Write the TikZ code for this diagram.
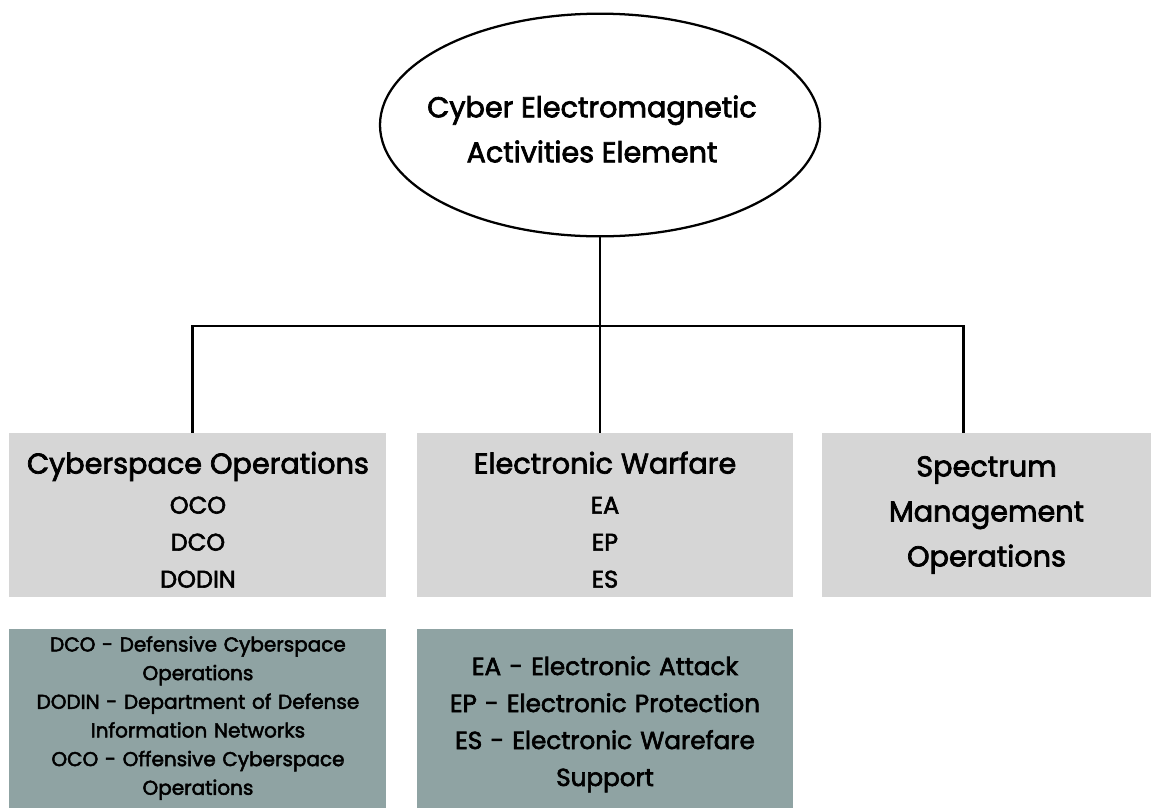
\documentclass[tikz,border=0pt]{standalone}
\usepackage{fontspec}
\setmainfont{Poppins}[UprightFeatures={FakeBold=2.5}]
\usetikzlibrary{shapes.geometric,positioning}

\definecolor{boxgrey}{RGB}{214,214,214}
\definecolor{notegrey}{RGB}{143,163,163}

\newcommand{\headfont}{\fontsize{21.5}{33.75}\selectfont}
\newcommand{\itemfont}{\fontsize{18}{27.75}\selectfont}
\newcommand{\notefont}{\fontsize{15}{21.5}\selectfont}
\newcommand{\topgap}{\rule{0pt}{23.5pt}}

\tikzset{
  unit/.style={fill=boxgrey,inner sep=0pt,minimum height=123pt,align=center},
  note/.style={fill=notegrey,inner sep=0pt,minimum height=134.25pt,align=center,
    text width=282.75pt,font=\notefont},
  link/.style={line width=2.1pt}
}

\begin{document}
\begin{tikzpicture}[x=0.75pt,y=-0.75pt]
\useasboundingbox (0,0) rectangle (1151,808);

% top of the tree
\node[ellipse,draw,line width=1.7pt,minimum width=330pt,minimum height=167pt,
  label={[font=\headfont,align=center,yshift=-3pt,xshift=-6pt]center:Cyber Electromagnetic\\Activities Element}]
  (cema) at (600,125) {};

% the three branches
\node[unit,text width=282pt,font=\itemfont] (ew) at (605,515)
  {{\headfont\topgap Electronic Warfare}\\[2.25pt]EA\\EP\\ES};
\node[unit,text width=282.75pt,font=\itemfont,left=22.5pt of ew] (cyo)
  {{\headfont\topgap Cyberspace Operations}\\[2.25pt]OCO\\DCO\\DODIN};
\node[unit,text width=247.5pt,font=\headfont,right=21pt of ew] (spm)
  {Spectrum\\Management\\Operations};

% abbreviations
\node[note,below=23.25pt of cyo] (cyonote)
  {DCO - Defensive Cyberspace\\Operations\\DODIN - Department of Defense\\
   Information Networks\\OCO - Offensive Cyberspace\\Operations};
\node[note,text width=282pt,font=\fontsize{18.5}{27.75}\selectfont,below=23.25pt of ew] (ewnote)
  {\topgap EA - Electronic Attack\\EP - Electronic Protection\\
   ES - Electronic Warefare\\Support};

% connectors
\coordinate (bus) at (601,326);
\draw[link] (cema.south) -- (cema.south |- ew.north);
\draw[link] ([xshift=-4pt]cyo.north) |- (bus) -| ([xshift=-17pt]spm.north);
\end{tikzpicture}
\end{document}
